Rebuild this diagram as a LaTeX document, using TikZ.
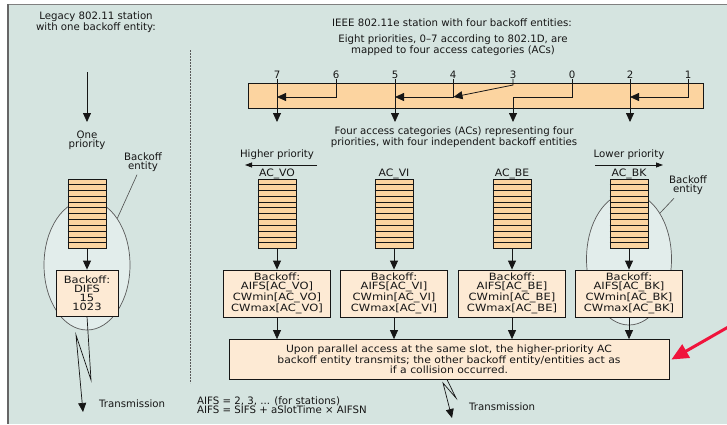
\documentclass[tikz,border=0pt]{standalone}
\usepackage{fontspec}
\usepackage{graphicx}
\setmainfont{DejaVu Sans}
\usetikzlibrary{arrows.meta,shapes.geometric,calc}
\definecolor{bgc}{RGB}{213,228,224}
\definecolor{ellc}{RGB}{226,237,235}
\definecolor{qfill}{RGB}{252,212,160}
\definecolor{bfill}{RGB}{253,234,212}
\definecolor{redc}{RGB}{240,20,60}
\definecolor{ink}{RGB}{22,22,22}
\def\xf{1}
\newcommand\sx[1]{\scalebox{\xf}[1]{#1}}
\newcommand\myqueue[2]{%
  \node[queue] (#1) at (#2,213.5) {};
  \foreach \i in {1,...,11}
    \draw[line width=0.45pt, ink] ($(#1.north west)!\i/12!(#1.south west)$) -- ($(#1.north east)!\i/12!(#1.south east)$);
}
\begin{document}
\begin{tikzpicture}[x=1pt,y=-1pt,
  txt/.style={font=\fontsize{10.2}{9.2}\selectfont, align=center, inner sep=0pt, text=ink},
  queue/.style={draw=ink, line width=0.8pt, fill=qfill, minimum width=38pt, minimum height=69pt, inner sep=0pt},
  bbox/.style={draw=ink, line width=0.8pt, fill=bfill, minimum width=107pt, minimum height=47pt, inner sep=0pt, font={\fontsize{10}{9.1}\selectfont\def\xf{1.15}}, align=center, text=ink},
  arr/.style={-{Triangle[length=9pt,width=8pt]}, line width=0.8pt, draw=ink},
  ln/.style={line width=0.7pt, draw=ink},
  ent/.style={ellipse, draw=black!65, line width=0.7pt, fill=ellc, inner sep=0pt},
]
\useasboundingbox (0,0) rectangle (727,424);
\fill[white] (0,0) rectangle (727,424);
\fill[bgc] (8,4.5) rectangle (727,424);
\draw[gray, line width=1pt] (8,4.5) -- (727,4.5);
\draw[black!60, line width=1.2pt] (8,4) -- (8,424);

% dashed separator
\coordinate (dtop) at (190,50);
\coordinate (dbot) at (190,383);
\draw[black!65, line width=1pt, dash pattern=on 2pt off 1pt] (dtop) -- (dbot);

% ===== Left: legacy station =====
\node[txt] (legacy) at (96,22.5) {Legacy 802.11 station\\with one backoff entity:};
\coordinate (ltop) at (87,72);
\coordinate (ltip) at (87,122);
\draw[arr] (ltop) -- (ltip);
\node[txt] (one) at (87,140) {One\\priority};

\node[ent, minimum width=86pt, minimum height=130pt] (ellL) at (87,265) {};
\node[txt] (belL) at (143,162) {Backoff\\entity};
\draw[line width=0.6pt, black!70] ([xshift=-6pt,yshift=-3pt]belL.south) -- (ellL.57);

\myqueue{qL}{87}
\node[bbox, minimum width=62pt, minimum height=46pt] (bL) at (87,293) {\sx{Backoff:}\\\sx{DIFS}\\\sx{15}\\\sx{1023}};
\draw[arr] (qL.south) -- (bL.north);

\coordinate (lz1) at (91,380);
\coordinate (lz2) at (76,335);
\coordinate (lz3) at (83,412);
\draw[ln, -{Triangle[length=9pt,width=8pt]}] (bL.south) -- (lz1) -- (lz2) -- (lz3);
\node[txt, anchor=west] (transL) at (99,404) {Transmission};

% ===== Right: 802.11e station =====
\node[txt] (ieee) at (452,23) {IEEE 802.11e station with four backoff entities:};
\node[txt] (eight) at (453,45.5) {Eight priorities, 0--7 according to 802.1D, are\\mapped to four access categories (ACs)};

\node[draw=ink, line width=0.8pt, fill=qfill, minimum width=455pt, minimum height=25pt, inner sep=0pt] (bar) at (475.5,95.5) {};

\foreach \n/\x in {7/277,6/336,5/395,4/453,3/513,0/572,2/630,1/688}
  \node[txt] (n\n) at (\x,75) {\n};

\coordinate (t7) at (277,122);
\coordinate (t5) at (395,122);
\coordinate (t3) at (513,122);
\coordinate (t2) at (630,122);
\draw[arr] (n7.south) -- (t7);
\draw[arr] (n5.south) -- (t5);
\draw[arr] (n2.south) -- (t2);
\draw[arr] (n6.south) |- (277,97);
\draw[arr] (n4.south) |- (395,97);
\draw[arr] (n1.south) |- (630,97);
\draw[arr] (n3.south) -- (513,85) -- (453.5,97);
\draw[arr] (n0.south) -- (572,97) -- (513,97) -- (t3);

\node[txt] (four) at (454,137.5) {Four access categories (ACs) representing four\\priorities, with four independent backoff entities};

\node[txt] (hp) at (277,155) {Higher priority};
\coordinate (hpa) at (317,165);
\coordinate (hpb) at (245,165);
\draw[line width=0.8pt, draw=ink, -{Triangle[length=7pt,width=5pt]}] (hpa) -- (hpb);
\node[txt] (lp) at (629,155) {Lower priority};
\coordinate (lpa) at (595,165);
\coordinate (lpb) at (663,165);
\draw[line width=0.8pt, draw=ink, -{Triangle[length=7pt,width=5pt]}] (lpa) -- (lpb);

\node[ent, minimum width=85pt, minimum height=132pt] (ellR) at (629,259) {};
\node[txt] (belR) at (688,185.5) {Backoff\\entity};
\draw[line width=0.6pt, black!70] ([xshift=-14pt,yshift=-3pt]belR.south) -- (ellR.56);

\foreach \nm/\x in {VO/277,VI/394,BE/512,BK/629}{
  \node[txt, font={\fontsize{10.2}{9.2}\selectfont\def\xf{1.06}}] (ac\nm) at (\x,174) {\sx{AC\_\nm}};
  \myqueue{q\nm}{\x}
  \node[bbox] (b\nm) at (\x,293.5) {\sx{Backoff:}\\\sx{AIFS[AC\_\nm]}\\\sx{CWmin[AC\_\nm]}\\\sx{CWmax[AC\_\nm]}};
  \draw[arr] (q\nm.south) -- (b\nm.north);
}

\node[draw=ink, line width=0.8pt, fill=bfill, minimum width=440pt, minimum height=40pt, inner sep=0pt, font={\fontsize{10}{9.3}\selectfont\def\xf{1.08}}, align=center, text=ink] (big) at (449,359.5)
  {\sx{Upon parallel access at the same slot, the higher-priority AC}\\\sx{backoff entity transmits; the other backoff entity/entities act as}\\\sx{if a collision occurred.}};
\foreach \nm in {VO,VI,BE,BK}
  \draw[arr] (b\nm.south) -- (b\nm.south |- big.north);

\coordinate (mz0) at (447,379.5);
\coordinate (mz1) at (456,398);
\coordinate (mz2) at (443,383);
\coordinate (mz3) at (452,418);
\draw[ln, -{Triangle[length=9pt,width=8pt]}] (mz0) -- (mz1) -- (mz2) -- (mz3);
\node[txt, anchor=west] (transR) at (469,407) {Transmission};

\node[txt, anchor=west, align=left] (aifs) at (197,405.5) {AIFS = 2, 3, ... (for stations)\\AIFS = SIFS + aSlotTime × AIFSN};

\coordinate (rs) at (730,326);
\draw[redc, line width=3pt, -{Triangle[length=17pt,width=15pt]}] (rs) -- ([xshift=2pt]big.east);
\end{tikzpicture}
\end{document}
